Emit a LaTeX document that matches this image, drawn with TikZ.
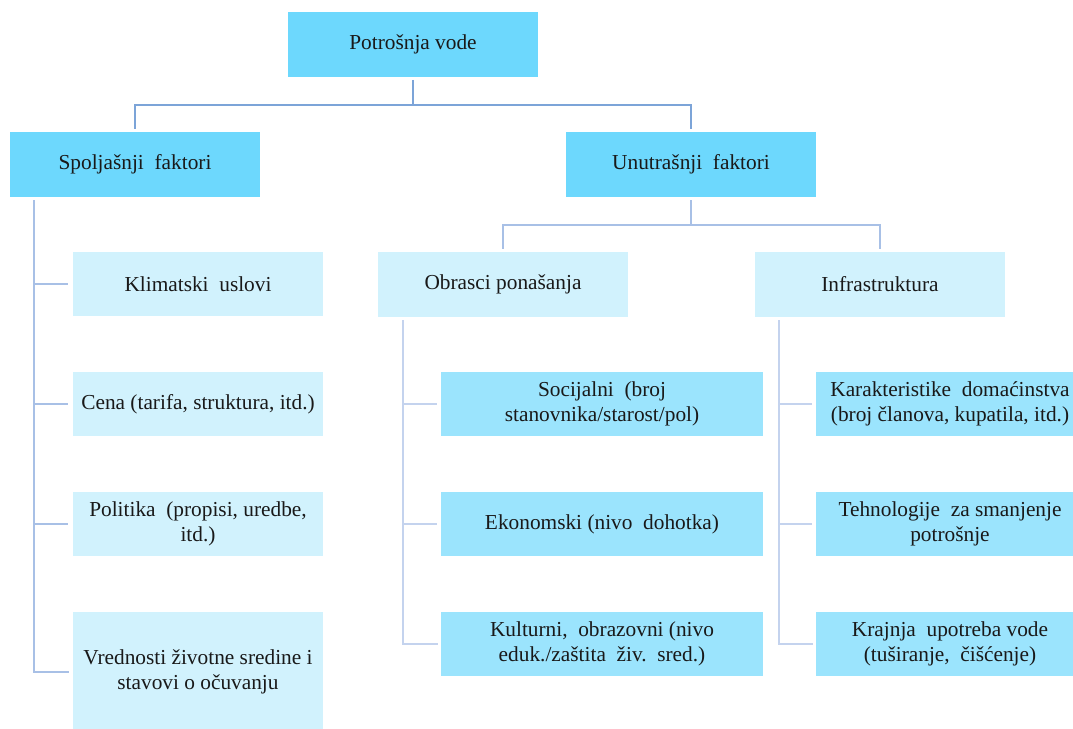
\documentclass[tikz,border=0pt]{standalone}
\usepackage{fontspec}
\setmainfont{Liberation Serif}
\usetikzlibrary{calc}
\definecolor{cdark}{RGB}{109,216,253}
\definecolor{cmid}{RGB}{155,228,253}
\definecolor{clight}{RGB}{209,242,253}
\definecolor{lnA}{RGB}{124,164,216}
\definecolor{lnB}{RGB}{168,192,230}
\definecolor{lnC}{RGB}{196,211,238}
\tikzset{
  box/.style={rectangle, inner sep=0pt, align=center, text=black!90,
    font=\fontsize{16}{18.75}\selectfont, minimum width=187.5pt, minimum height=48.5pt},
  darkbox/.style={box, fill=cdark},
  midbox/.style={box, fill=cmid},
  lightbox/.style={box, fill=clight},
  conA/.style={draw=lnA, line width=1.9pt},
  conB/.style={draw=lnB, line width=1.7pt},
  conC/.style={draw=lnC, line width=1.7pt},
}
\begin{document}
\begin{tikzpicture}[x=0.75pt,y=-0.75pt]
\useasboundingbox (0,0) rectangle (1073,728);
\clip (0,0) rectangle (1073,728);

% level 0/1
\node[darkbox] (pv) at (413,44.5) {Potrošnja vode};
\node[darkbox] (spo) at (135,164.5) {Spoljašnji\ \ faktori};
\node[darkbox] (unu) at (691,164.5) {Unutrašnji\ \ faktori};

% external factors
\node[lightbox] (klim) at (198,284) {Klimatski\ \ uslovi};
\node[lightbox] (cena) at (198,404) {Cena (tarifa,\ struktura, itd.)};
\node[lightbox] (pol) at (198,524) {Politika\ \ (propisi, uredbe,\\itd.)};
\node[lightbox, minimum height=90pt] (vred) at (198,672) {Vrednosti životne sredine i\\stavovi o očuvanju};

% internal factors
\node[lightbox] (obr) at (503,284.5) {Obrasci ponašanja};
\node[lightbox] (inf) at (880,284.5) {Infrastruktura};

\node[midbox, minimum width=241.5pt] (soc) at (602,404) {Socijalni\ \ (broj\\stanovnika/starost/pol)};
\node[midbox, minimum width=241.5pt] (eko) at (602,524) {Ekonomski (nivo\ \ dohotka)};
\node[midbox, minimum width=241.5pt] (kul) at (602,644) {Kulturni,\ \ obrazovni (nivo\\eduk./zaštita\ \ živ.\ \ sred.)};

\node[midbox, minimum width=201pt] (kar) at (950,404) {Karakteristike\ \ domaćinstva\\(broj članova, kupatila, itd.)};
\node[midbox, minimum width=201pt] (teh) at (950,524) {Tehnologije\ \ za smanjenje\\potrošnje};
\node[midbox, minimum width=201pt] (kraj) at (950,644) {Krajnja\ \ upotreba vode\\(tuširanje,\ \ čišćenje)};

% top connectors
\coordinate (j1) at ($(pv.south)+(0,28)$);
\draw[conA, shorten <=2pt] (pv.south) -- (j1);
\draw[conA, shorten <=2.2pt, shorten >=2.2pt] (spo.north) |- (j1) -| (unu.north);

\coordinate (j2) at ($(unu.south)+(0,28)$);
\draw[conB, shorten <=2.2pt] (unu.south) -- (j2);
\draw[conB, shorten <=2.2pt, shorten >=2.2pt] (obr.north) |- (j2) -| (inf.north);

% external children
\coordinate (sx) at ($(spo.south west)+(24,3)$);
\draw[conB] (sx) |- ($(vred.west)+(-4,0)$);
\foreach \n in {klim,cena,pol}
  \draw[conB, shorten >=3.5pt] (sx |- \n.west) -- (\n.west);

% obrasci children
\coordinate (ox) at ($(obr.south west)+(25,3)$);
\draw[conC] (ox) |- ($(kul.west)+(-3,0)$);
\foreach \n in {soc,eko}
  \draw[conC, shorten >=2.5pt] (ox |- \n.west) -- (\n.west);

% infrastruktura children
\coordinate (ix) at ($(inf.south west)+(24,3)$);
\draw[conC] (ix) |- ($(kraj.west)+(-3,0)$);
\foreach \n in {kar,teh}
  \draw[conC, shorten >=2.5pt] (ix |- \n.west) -- (\n.west);
\end{tikzpicture}
\end{document}
